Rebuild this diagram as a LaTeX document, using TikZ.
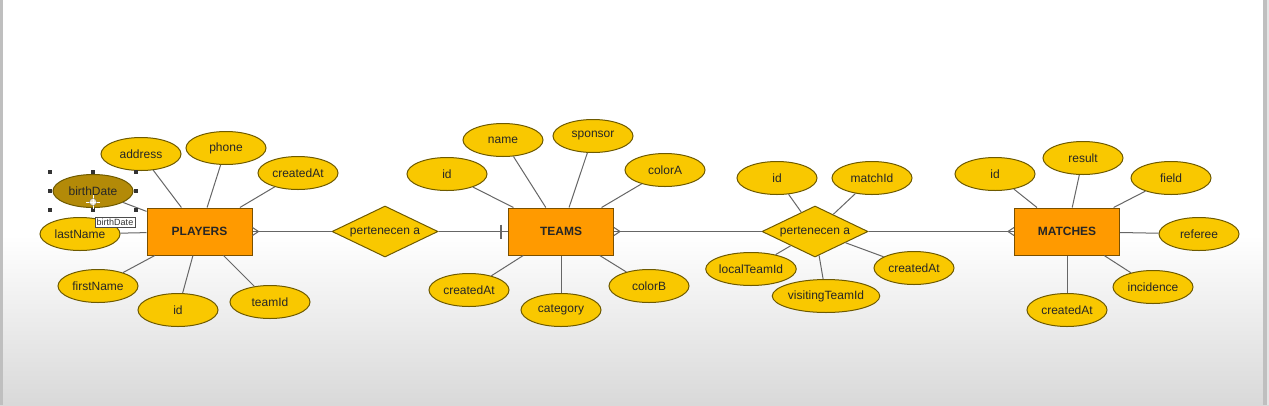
\documentclass[tikz,border=0pt]{standalone}
\usepackage{fontspec}
\setmainfont{Liberation Sans}
\usetikzlibrary{shapes.geometric,calc}
\definecolor{attrfill}{HTML}{F9C800}
\definecolor{attrdraw}{HTML}{6E5A00}
\definecolor{entfill}{HTML}{FF9A00}
\definecolor{entdraw}{HTML}{7A5000}
\definecolor{selfill}{HTML}{B38A08}
\definecolor{linec}{HTML}{666666}
\tikzset{
  attr/.style={ellipse,draw=attrdraw,fill=attrfill,line width=1pt,minimum width=80pt,minimum height=33pt,inner sep=0pt,font=\fontsize{12}{14}\selectfont,text=black!85},
  ent/.style={rectangle,draw=entdraw,fill=entfill,line width=1pt,minimum width=105pt,minimum height=47pt,inner sep=0pt,font=\fontsize{12}{14}\selectfont\bfseries,text=black!85},
  rel/.style={diamond,draw=attrdraw,fill=attrfill,line width=1pt,minimum width=106pt,minimum height=51pt,aspect=2,inner sep=0pt,font=\fontsize{12}{14}\selectfont,text=black!85},
  conn/.style={draw=linec,line width=1pt},
  handle/.style={fill=black!80,minimum size=4pt,inner sep=0pt,rectangle},
}
\begin{document}
\begin{tikzpicture}[x=1pt,y=-1pt]
\useasboundingbox (0,0) rectangle (1269,405);
\fill[white] (0,0) rectangle (1269,405);
\shade[top color=white,bottom color=black!15] (0,235) rectangle (1269,405);
\fill[black!25] (0,0) rectangle (3,405);
\fill[black!25] (1263,0) rectangle (1267,405);
\fill[black!10] (1267,0) rectangle (1269,405);

% entities and relations
\node[ent] (P) at (199.5,231.5) {PLAYERS};
\node[rel] (R1) at (385,231.5) {pertenecen a};
\node[ent] (T) at (561,231.5) {TEAMS};
\node[rel] (R2) at (815,231.5) {pertenecen a};
\node[ent] (M) at (1067,231.5) {MATCHES};

% PLAYERS attributes
\node[attr] (pAddress) at (141,154) {address};
\node[attr] (pPhone) at (226,148) {phone};
\node[attr] (pCreated) at (298,173) {createdAt};
\node[attr,fill=selfill] (pBirth) at (93,191) {birthDate};
\node[attr] (pLast) at (80,234) {lastName};
\node[attr] (pFirst) at (98,286) {firstName};
\node[attr] (pId) at (178,310) {id};
\node[attr] (pTeam) at (270,302) {teamId};

% TEAMS attributes
\node[attr] (tId) at (447,174) {id};
\node[attr] (tName) at (503,140) {name};
\node[attr] (tSponsor) at (593,136) {sponsor};
\node[attr] (tColorA) at (665,170) {colorA};
\node[attr] (tCreated) at (469,290) {createdAt};
\node[attr] (tCategory) at (561,310) {category};
\node[attr] (tColorB) at (649,286) {colorB};

% relation attributes
\node[attr] (rId) at (777,178) {id};
\node[attr] (rMatch) at (872,178) {matchId};
\node[attr] (rLocal) at (751,269) {localTeamId};
\node[attr,minimum width=97pt] (rVisit) at (826,296) {visitingTeamId};
\node[attr] (rCreated) at (914,268) {createdAt};

% MATCHES attributes
\node[attr] (mId) at (995,174) {id};
\node[attr] (mResult) at (1083,158) {result};
\node[attr] (mField) at (1171,178) {field};
\node[attr] (mReferee) at (1199,234) {referee};
\node[attr] (mIncid) at (1153,287) {incidence};
\node[attr] (mCreated) at (1067,310) {createdAt};

% connectors
\foreach \a in {pAddress,pPhone,pCreated,pBirth,pLast,pFirst,pId,pTeam}
  \draw[conn] (\a) -- (P);
\foreach \a in {tId,tName,tSponsor,tColorA,tCreated,tCategory,tColorB}
  \draw[conn] (\a) -- (T);
\foreach \a in {rId,rMatch,rLocal,rVisit,rCreated}
  \draw[conn] (\a) -- (R2);
\foreach \a in {mId,mResult,mField,mReferee,mIncid,mCreated}
  \draw[conn] (\a) -- (M);
\draw[conn] (P.east) -- (R1.west);
\draw[conn] (R1.east) -- (T.west);
\draw[conn] (T.east) -- (R2.west);
\draw[conn] (R2.east) -- (M.west);

% cardinality marks
\draw[conn] ($(P.east)+(0,-4)$) -- ($(P.east)+(6,0)$) -- ($(P.east)+(0,4)$);
\draw[conn] ($(T.east)+(0,-4)$) -- ($(T.east)+(6,0)$) -- ($(T.east)+(0,4)$);
\draw[conn] ($(M.west)+(0,-4)$) -- ($(M.west)+(-6,0)$) -- ($(M.west)+(0,4)$);
\draw[conn,line width=1.2pt] ($(T.west)+(-7,-7)$) -- ($(T.west)+(-7,7)$);

% selection handles on birthDate
\foreach \hx/\hy in {50/172,93/172,136/172,50/191,136/191,50/210,93/210,136/210}
  \node[handle] at (\hx,\hy) {};
% move cursor
\fill[white,opacity=0.8] (93,202) circle (3.5);
\draw[white,line width=1pt] (86,202) -- (100,202) (93,195) -- (93,209);
\draw[black!60,line width=0.3pt] (93,202) circle (3.5);
% tooltip
\node[draw=black!70,fill=white,line width=0.5pt,inner sep=1.5pt,font=\fontsize{9}{10}\selectfont,text=black!80] (tip) at (115,222) {birthDate};
\end{tikzpicture}
\end{document}
